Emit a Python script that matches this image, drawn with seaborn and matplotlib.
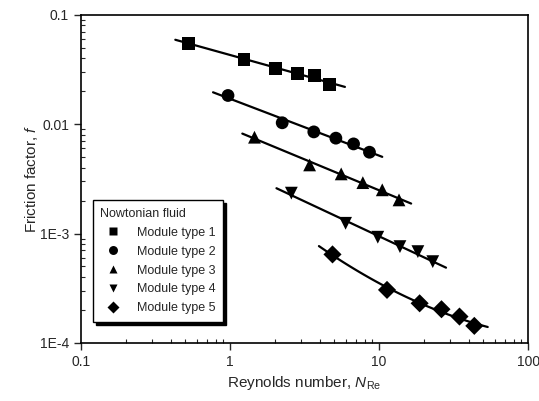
import numpy as np
import pandas as pd
import seaborn as sns
import matplotlib.pyplot as plt

# Reynolds number / friction factor
re_1 = [0.53, 1.24, 2.02, 2.83, 3.69, 4.65]
f_1 = [0.0551, 0.0388, 0.0325, 0.0293, 0.0278, 0.0229]
re_2 = [0.97, 2.24, 3.65, 5.13, 6.74, 8.62]
f_2 = [0.0183, 0.0103, 0.0085, 0.00745, 0.0066, 0.00554]
re_3 = [1.46, 3.42, 5.57, 7.78, 10.5, 13.6]
f_3 = [0.0076, 0.00424, 0.00351, 0.00292, 0.00251, 0.00203]
re_4 = [2.58, 5.96, 9.8, 13.8, 18.2, 22.9]
f_4 = [0.00234, 0.00124, 0.000925, 0.000759, 0.000683, 0.000553]
re_5 = [4.87, 11.3, 18.7, 26.2, 34.6, 43.5]
f_5 = [0.000644, 0.000305, 0.00023, 0.000203, 0.000174, 0.000143]

modules = ['Module type 1', 'Module type 2', 'Module type 3', 'Module type 4', 'Module type 5']
fit_range = [(0.43, 5.9), (0.77, 10.5), (1.21, 16.4), (2.05, 28.1), (3.95, 53.5)]
fit_degree = [1, 1, 1, 1, 2]

xticks = [0.1, 1, 10, 100]
xticklabels = ['0.1', '1', '10', '100']
yticks = [1e-4, 1e-3, 1e-2, 1e-1]
yticklabels = ['1E-4', '1E-3', '0.01', '0.1']

sns.set_style('ticks')
plt.rcParams['font.family'] = ['Liberation Sans', 'DejaVu Sans']
plt.rcParams['mathtext.fontset'] = 'custom'
plt.rcParams['mathtext.rm'] = 'Liberation Sans'
plt.rcParams['mathtext.it'] = 'Liberation Sans:italic'

res = [re_1, re_2, re_3, re_4, re_5]
fs = [f_1, f_2, f_3, f_4, f_5]
rows = []
for m, r, f in zip(modules, res, fs):
    for a, b in zip(r, f):
        rows.append((m, a, b))
df = pd.DataFrame(rows, columns=['module', 're', 'f'])

# fit lines in log-log space
fit_rows = []
for m, r, f, (lo, hi), deg in zip(modules, res, fs, fit_range, fit_degree):
    coef = np.polyfit(np.log10(r), np.log10(f), deg)
    xx = np.geomspace(lo, hi, 50)
    yy = 10 ** np.polyval(coef, np.log10(xx))
    for a, b in zip(xx, yy):
        fit_rows.append((m, a, b))
fit = pd.DataFrame(fit_rows, columns=['module', 're', 'f'])

fig = plt.figure(figsize=(5.39, 4.01), dpi=100)
ax = fig.add_axes([0.150, 0.145, 0.830, 0.818])

for m in modules:
    sns.lineplot(data=fit[fit.module == m], x='re', y='f', color='black',
                 lw=1.6, legend=False, ax=ax, estimator=None, sort=False)

mk = dict(zip(modules, ['s', 'o', '^', 'v', 'D']))
sns.scatterplot(data=df, x='re', y='f', style='module', markers=mk,
                color='black', s=85, edgecolor='none', ax=ax, zorder=3)

ax.set_xscale('log')
ax.set_yscale('log')
ax.set_xlim(0.1, 100)
ax.set_ylim(1e-4, 0.1)
ax.set_xticks(xticks, xticklabels)
ax.set_yticks(yticks, yticklabels)
ax.tick_params(which='major', direction='out', length=5, width=1, labelsize=10)
ax.tick_params(which='minor', direction='in', length=3, width=0.8)
for s in ax.spines.values():
    s.set_linewidth(1.2)
    s.set_color('black')

ax.set_xlabel('Reynolds number, $\\it{N}_{\\rm Re}$', fontsize=11)
ax.set_ylabel('Friction factor, $\\it{f}$', fontsize=11, labelpad=0)

handles, labels = ax.get_legend_handles_labels()
leg = ax.legend(handles, labels, title='Nowtonian fluid', loc='lower left',
                bbox_to_anchor=(0.027, 0.064), borderaxespad=0,
                fontsize=9, title_fontsize=9, alignment='left',
                fancybox=False, edgecolor='black', framealpha=1,
                shadow={'color': 'black', 'alpha': 1}, markerscale=0.7,
                handletextpad=0.9, labelspacing=0.55, borderpad=0.6)
leg.get_frame().set_linewidth(1)

fig.savefig('out.png', dpi=100)
